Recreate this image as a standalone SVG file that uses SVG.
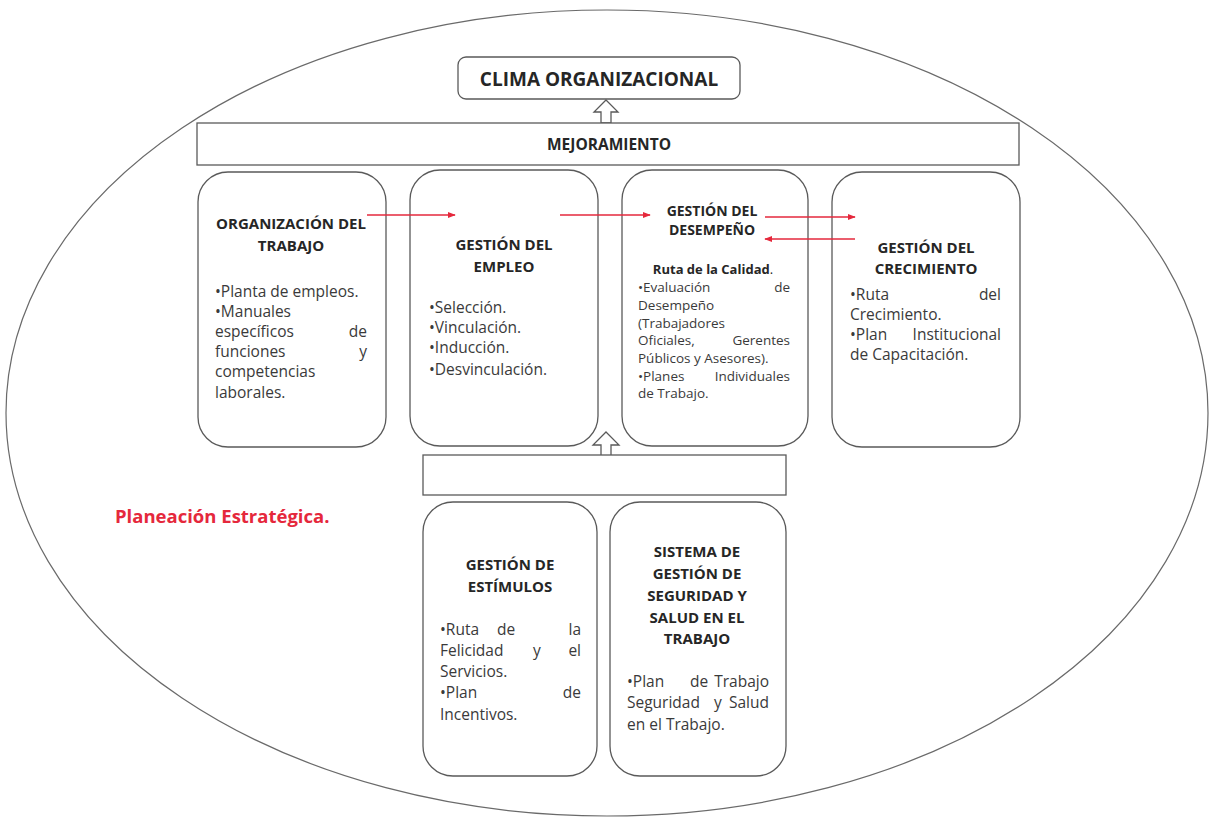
<svg xmlns="http://www.w3.org/2000/svg" width="1211" height="818" viewBox="0 0 1211 818">
<defs>
<style>
.sh{fill:#fff;stroke:#5a5a5a;stroke-width:1.3}
.h{font-family:"Open Sans",Lato,"Liberation Sans",sans-serif;font-weight:bold;fill:#262626;text-anchor:middle;font-size:15px}
.b{font-family:"Open Sans",Lato,"Liberation Sans",sans-serif;font-size:15.5px;fill:#3a3a3a}
.s{font-size:13.5px}
.r{text-anchor:end}
.m{text-anchor:middle}
.c{stroke:#e5283c;stroke-width:1.6;fill:none;marker-end:url(#ah)}
</style>
<marker id="ah" viewBox="0 0 10 10" refX="9" refY="5" markerWidth="5" markerHeight="5" orient="auto"><path d="M0,1 L10,5 L0,9 z" fill="#e5283c"/></marker>
</defs>
<rect width="1211" height="818" fill="#fff"/>
<ellipse cx="607" cy="413" rx="601" ry="403" fill="#fff" stroke="#6a6a6a" stroke-width="1.2"/>

<g id="clima">
<rect class="sh" x="458" y="57" width="282" height="42" rx="8"/>
<text class="h" x="599" y="86" style="font-size:19px">CLIMA ORGANIZACIONAL</text>
</g>
<g id="arrow-up-top">
<path class="sh" d="M606,100 L618,112 L611,112 L611,123 L601,123 L601,112 L594,112 Z"/>
</g>
<g id="mejoramiento">
<rect class="sh" x="197" y="123" width="822" height="42"/>
<text class="h" x="609" y="150" style="font-size:15.5px">MEJORAMIENTO</text>
</g>

<g id="organizacion">
<rect class="sh" x="198" y="172" width="188" height="275" rx="30"/>
<text class="h" x="291" y="229">ORGANIZACIÓN DEL</text>
<text class="h" x="291" y="251">TRABAJO</text>
<text class="b" x="215" y="297">•Planta de empleos.</text>
<text class="b" x="215" y="317">•Manuales</text>
<text class="b" x="215" y="337">específicos</text><text class="b r" x="367" y="337">de</text>
<text class="b" x="215" y="357">funciones</text><text class="b r" x="367" y="357">y</text>
<text class="b" x="215" y="377">competencias</text>
<text class="b" x="215" y="398">laborales.</text>
</g>

<g id="empleo">
<rect class="sh" x="410" y="170" width="188" height="276" rx="30"/>
<text class="h" x="504" y="250">GESTIÓN DEL</text>
<text class="h" x="504" y="272">EMPLEO</text>
<text class="b" x="429" y="313">•Selección.</text>
<text class="b" x="429" y="333">•Vinculación.</text>
<text class="b" x="429" y="353">•Inducción.</text>
<text class="b" x="429" y="375">•Desvinculación.</text>
</g>

<g id="desempeno">
<rect class="sh" x="622" y="170" width="186" height="276" rx="30"/>
<text class="h" x="712" y="216" style="font-size:14px">GESTIÓN DEL</text>
<text class="h" x="712" y="235" style="font-size:14px">DESEMPEÑO</text>
<text class="h" x="713" y="274" style="font-size:13px">Ruta de la Calidad<tspan font-weight="normal">.</tspan></text>
<text class="b s" x="638" y="292">•Evaluación</text><text class="b s r" x="790" y="292">de</text>
<text class="b s" x="638" y="310">Desempeño</text>
<text class="b s" x="638" y="328">(Trabajadores</text>
<text class="b s" x="638" y="345">Oficiales,</text><text class="b s r" x="790" y="345">Gerentes</text>
<text class="b s" x="638" y="363">Públicos y Asesores).</text>
<text class="b s" x="638" y="381">•Planes</text><text class="b s r" x="790" y="381">Individuales</text>
<text class="b s" x="638" y="398">de Trabajo.</text>
</g>

<g id="crecimiento">
<rect class="sh" x="832" y="172" width="188" height="275" rx="30"/>
<text class="h" x="926" y="253">GESTIÓN DEL</text>
<text class="h" x="926" y="274">CRECIMIENTO</text>
<text class="b" x="850" y="300">•Ruta</text><text class="b r" x="1001" y="300">del</text>
<text class="b" x="850" y="320">Crecimiento.</text>
<text class="b" x="850" y="340">•Plan</text><text class="b r" x="1001" y="340">Institucional</text>
<text class="b" x="850" y="360">de Capacitación.</text>
</g>

<g id="arrow-up-bottom">
<path class="sh" d="M606,432 L619,445 L611,445 L611,456 L601,456 L601,445 L593,445 Z"/>
</g>
<g id="barra">
<rect class="sh" x="423" y="455" width="363" height="40"/>
</g>

<g id="planeacion">
<text x="115" y="523" font-family="'Open Sans',Lato,'Liberation Sans',sans-serif" font-weight="bold" font-size="18.5" fill="#e5283c">Planeación Estratégica.</text>
</g>

<g id="estimulos">
<rect class="sh" x="423" y="502" width="174" height="274" rx="30"/>
<text class="h" x="510" y="570">GESTIÓN DE</text>
<text class="h" x="510" y="592">ESTÍMULOS</text>
<text class="b" x="440" y="635">•Ruta</text><text class="b m" x="506" y="635">de</text><text class="b r" x="581" y="635">la</text>
<text class="b" x="440" y="656">Felicidad</text><text class="b m" x="537" y="656">y</text><text class="b r" x="581" y="656">el</text>
<text class="b" x="440" y="677">Servicios.</text>
<text class="b" x="440" y="698">•Plan</text><text class="b r" x="581" y="698">de</text>
<text class="b" x="440" y="720">Incentivos.</text>
</g>

<g id="sst">
<rect class="sh" x="610" y="502" width="176" height="274" rx="30"/>
<text class="h" x="697" y="557">SISTEMA DE</text>
<text class="h" x="697" y="579">GESTIÓN DE</text>
<text class="h" x="697" y="601">SEGURIDAD Y</text>
<text class="h" x="697" y="623">SALUD EN EL</text>
<text class="h" x="697" y="644">TRABAJO</text>
<text class="b" x="627" y="687">•Plan</text><text class="b m" x="699" y="687">de</text><text class="b r" x="769" y="687">Trabajo</text>
<text class="b" x="627" y="708">Seguridad</text><text class="b m" x="718" y="708">y</text><text class="b r" x="769" y="708">Salud</text>
<text class="b" x="627" y="730">en el Trabajo.</text>
</g>

<g id="connectors">
<line class="c" x1="367" y1="215" x2="455" y2="215"/>
<line class="c" x1="560" y1="215" x2="650" y2="215"/>
<line class="c" x1="765" y1="217" x2="855" y2="217"/>
<line class="c" x1="855" y1="239" x2="765" y2="239"/>
</g>
</svg>
